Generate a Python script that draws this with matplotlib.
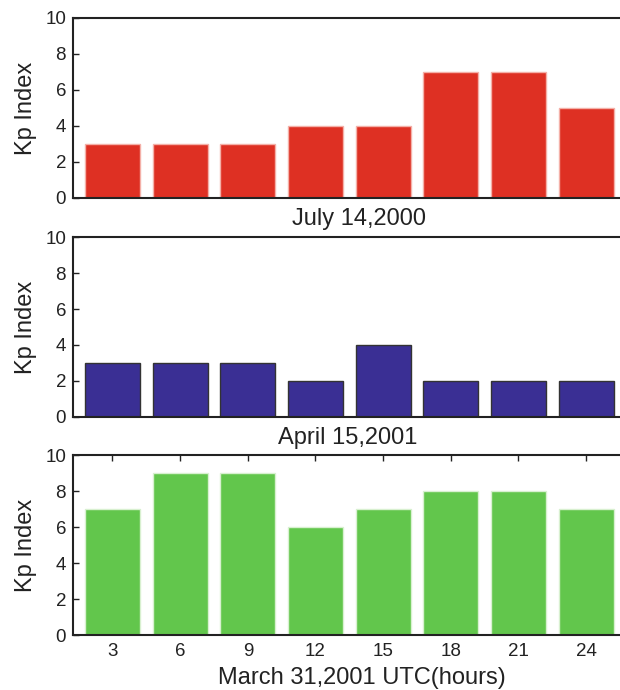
import matplotlib
matplotlib.use("Agg")
import matplotlib.pyplot as plt

hours = [3, 6, 9, 12, 15, 18, 21, 24]
kp_july_2000 = [3, 3, 3, 4, 4, 7, 7, 5]
kp_april_2001 = [3, 3, 3, 2, 4, 2, 2, 2]
kp_march_2001 = [7, 9, 9, 6, 7, 8, 8, 7]
titles = ["July 14,2000", "April 15,2001"]
xlabel = "March 31,2001 UTC(hours)"
ylabel = "Kp Index"

plt.rcParams['font.family'] = ['Liberation Sans', 'DejaVu Sans']

fig = plt.figure(figsize=(6.2, 6.9), dpi=100)
W, H = 620, 690
left, right = 73, 620
panels = [(18, 198), (237, 417), (455, 635)]
data = [kp_july_2000, kp_april_2001, kp_march_2001]
colors = ['#de3023', '#3a2f94', '#62c64c']
edges = ['#f4b0a8', '#333333', '#d8f0d0']
title_x = [0.522, 0.503]

for i, ((top, bot), vals, c, ec) in enumerate(zip(panels, data, colors, edges)):
    ax = fig.add_axes([left / W, 1 - bot / H, (right - left) / W, (bot - top) / H])
    ax.bar(hours, vals, width=2.45, color=c, edgecolor=ec, linewidth=1.0, zorder=2)
    ax.set_xlim(1.25, 25.5)
    ax.set_ylim(0, 10)
    ax.set_yticks([0, 2, 4, 6, 8, 10])
    ax.spines['right'].set_visible(False)
    for s in ['left', 'bottom', 'top']:
        ax.spines[s].set_linewidth(1.5)
        ax.spines[s].set_color('#222222')
    ax.tick_params(axis='y', direction='in', length=4, width=1, labelsize=13.5,
                   colors='#222222', pad=5)
    ax.set_ylabel(ylabel, fontsize=17, labelpad=6, color='#222222')
    if i < 2:
        ax.set_xticks([])
        ax.text(title_x[i], -0.115, titles[i], transform=ax.transAxes, ha='center', va='center',
                fontsize=17, color='#222222')
    else:
        ax.set_xticks(hours)
        ax.tick_params(axis='x', direction='in', length=4, width=1, top=True, bottom=False,
                       labelsize=13.5, colors='#222222', pad=6)
        ax.set_xlabel(xlabel, fontsize=17, color='#222222')
        ax.xaxis.set_label_coords(0.529, -0.24, transform=ax.transAxes)
        ax.xaxis.label.set_va('center')

fig.savefig('out.png', dpi=100)
